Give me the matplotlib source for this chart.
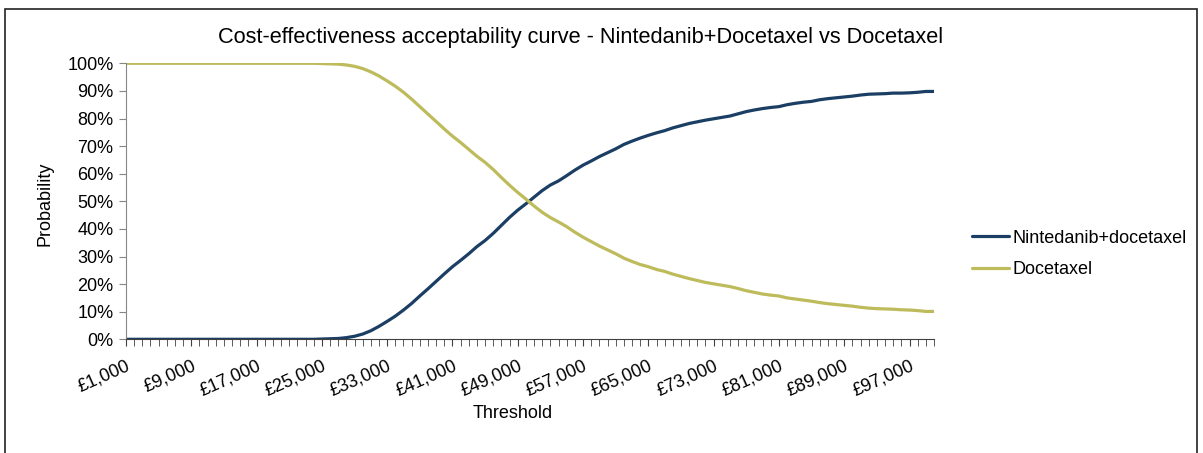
import numpy as np
import matplotlib
matplotlib.use("Agg")
import matplotlib.pyplot as plt
from matplotlib.patches import Rectangle

plt.rcParams["font.family"] = ["Liberation Sans", "DejaVu Sans"]

# willingness-to-pay thresholds, £1,000 .. £100,000
thresholds = np.arange(1000, 100001, 1000)

# probability cost-effective (%)
nintedanib = [0] * 24 + [
    0.1, 0.2, 0.3, 0.6, 1.1, 1.9, 3.1, 4.7, 6.5, 8.4,
    10.6, 13.0, 15.7, 18.3, 21.0, 23.7, 26.3, 28.6, 31.0, 33.6,
    35.8, 38.4, 41.3, 44.2, 46.8, 49.1, 51.5, 53.9, 55.9, 57.4,
    59.3, 61.3, 63.1, 64.6, 66.2, 67.6, 69.0, 70.6, 71.8, 72.9,
    73.9, 74.8, 75.6, 76.6, 77.4, 78.2, 78.8, 79.4, 79.9, 80.4,
    80.9, 81.7, 82.5, 83.1, 83.6, 84.0, 84.3, 85.0, 85.5, 85.9,
    86.2, 86.8, 87.2, 87.5, 87.8, 88.1, 88.5, 88.8, 88.9, 89.0,
    89.2, 89.2, 89.3, 89.5, 89.8, 89.8,
]
docetaxel = [100] * 24 + [
    99.9, 99.8, 99.7, 99.4, 98.9, 98.1, 96.9, 95.4, 93.6, 91.7,
    89.5, 87.0, 84.3, 81.6, 78.9, 76.2, 73.6, 71.3, 68.8, 66.3,
    64.1, 61.5, 58.6, 55.8, 53.2, 50.8, 48.3, 46.0, 44.1, 42.5,
    40.8, 38.8, 37.0, 35.4, 33.8, 32.4, 31.0, 29.4, 28.2, 27.1,
    26.3, 25.3, 24.6, 23.6, 22.8, 22.0, 21.3, 20.6, 20.1, 19.6,
    19.1, 18.4, 17.6, 17.0, 16.4, 16.0, 15.7, 15.0, 14.6, 14.2,
    13.8, 13.3, 12.9, 12.6, 12.3, 12.0, 11.6, 11.3, 11.1, 11.0,
    10.9, 10.7, 10.6, 10.4, 10.1, 10.1,
]
series_names = ["Nintedanib+docetaxel", "Docetaxel"]
colors = ["#1b3e64", "#bdbb5b"]

W, H = 1203, 453
fig = plt.figure(figsize=(W / 100, H / 100), dpi=100)
ax = fig.add_axes([126 / W, 1 - 339.3 / H, (934 - 126) / W, (339.3 - 63.3) / H])

for vals, name, c in zip([nintedanib, docetaxel], series_names, colors):
    ax.plot(thresholds, np.array(vals) / 100, color=c, lw=2.3, label=name,
            solid_capstyle="round")

ax.set_xlim(thresholds[0], thresholds[-1])
ax.set_ylim(0, 1)
yt = np.arange(0, 1.01, 0.1)
ax.set_yticks(yt)
ax.set_yticklabels([f"{int(round(v * 100))}%" for v in yt])

label_ticks = thresholds[::8]
ax.set_xticks(thresholds, minor=True)
ax.set_xticks(label_ticks)
ax.set_xticklabels([f"£{v:,}" for v in label_ticks], rotation=24,
                   ha="right", va="top", rotation_mode="anchor")

for s in ["top", "right"]:
    ax.spines[s].set_visible(False)
ax.spines["left"].set_color("#868686")
ax.spines["bottom"].set_color("#404040")
ax.tick_params(axis="y", length=5, color="#868686", labelsize=13, pad=4)
ax.tick_params(axis="x", which="both", length=5, color="#404040", labelsize=13, pad=8)

fig.text(581 / W, 1 - 37 / H, "Cost-effectiveness acceptability curve - Nintedanib+Docetaxel vs Docetaxel",
         ha="center", va="center", fontsize=15.7)
fig.text(45 / W, 1 - 204 / H, "Probability", rotation=90, ha="center", va="center", fontsize=13)
fig.text(513 / W, 1 - 413 / H, "Threshold", ha="center", va="center", fontsize=13)

ax.legend(loc="center left", bbox_to_anchor=(972 / W, 1 - 254 / H), bbox_transform=fig.transFigure,
          frameon=False, fontsize=13, handlelength=2.05, handletextpad=0.17, labelspacing=0.8,
          borderpad=0, borderaxespad=0)

# outer chart frame
fig.patches.append(Rectangle((5 / W, -0.02), (1197 - 5) / W, 1 - 9 / H + 0.02,
                             transform=fig.transFigure, fill=False, lw=1.2, ec="#222222"))

fig.savefig("out.png", dpi=100)
